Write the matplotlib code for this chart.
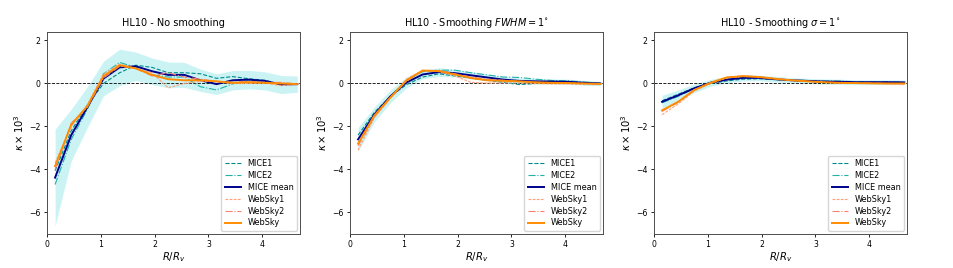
import matplotlib
matplotlib.use("Agg")
import matplotlib.pyplot as plt
import numpy as np

r = [0.15, 0.45, 0.75, 1.05, 1.35, 1.65, 1.95, 2.25, 2.55, 2.85, 3.15, 3.45, 3.75, 4.05, 4.35, 4.65]

titles = ["HL10 - No smoothing",
          r"HL10 - Smoothing $FWHM = 1^{\circ}$",
          r"HL10 - Smoothing $\sigma = 1^{\circ}$"]

# Panel 1: no smoothing
mice1_a = [-4.06, -2.2, -1.0, 0.0, 0.5, 0.85, 0.75, 0.5, 0.5, 0.45, 0.24, 0.32, 0.22, 0.15, -0.05, -0.03]
mice2_a = [-4.7, -2.6, -1.2, 0.45, 0.98, 0.75, 0.4, 0.3, 0.3, -0.15, -0.3, -0.02, 0.14, 0.09, -0.05, -0.03]
micem_a = [-4.38, -2.4, -1.1, 0.23, 0.75, 0.8, 0.57, 0.4, 0.4, 0.15, -0.03, 0.15, 0.18, 0.12, -0.05, -0.03]
micesd_a = [2.25, 1.2, 0.95, 0.8, 0.85, 0.66, 0.62, 0.6, 0.58, 0.52, 0.48, 0.45, 0.43, 0.42, 0.42, 0.38]
web1_a = [-3.7, -2.0, -1.0, 0.45, 0.9, 0.7, 0.5, -0.2, 0.0, 0.1, 0.1, 0.0, 0.0, 0.02, -0.1, -0.05]
web2_a = [-4.0, -1.85, -1.1, 0.25, 0.8, 0.7, 0.35, 0.5, 0.3, 0.2, 0.1, 0.06, 0.1, 0.05, 0.05, -0.02]
webm_a = [-3.85, -1.92, -1.05, 0.34, 0.85, 0.7, 0.4, 0.2, 0.15, 0.15, 0.1, 0.03, 0.06, 0.03, 0.0, -0.03]

# Panel 2: FWHM = 1 deg
mice1_b = [-2.4, -1.35, -0.6, -0.05, 0.3, 0.45, 0.35, 0.25, 0.15, 0.05, -0.05, 0.0, 0.05, 0.05, 0.0, -0.02]
mice2_b = [-2.8, -1.55, -0.6, 0.15, 0.55, 0.62, 0.62, 0.5, 0.4, 0.3, 0.28, 0.2, 0.14, 0.12, 0.07, 0.02]
micem_b = [-2.6, -1.45, -0.6, 0.05, 0.42, 0.53, 0.48, 0.38, 0.28, 0.18, 0.12, 0.1, 0.09, 0.08, 0.03, 0.0]
micesd_b = [0.55, 0.35, 0.3, 0.25, 0.2, 0.2, 0.17, 0.16, 0.15, 0.14, 0.14, 0.13, 0.12, 0.12, 0.11, 0.1]
web1_b = [-3.1, -1.6, -0.7, 0.2, 0.62, 0.55, 0.35, 0.05, 0.02, 0.03, 0.02, 0.0, -0.02, -0.02, -0.05, -0.05]
web2_b = [-2.9, -1.55, -0.65, 0.1, 0.58, 0.6, 0.45, 0.3, 0.2, 0.15, 0.1, 0.06, 0.04, 0.02, 0.0, -0.02]
webm_b = [-2.8, -1.5, -0.65, 0.15, 0.6, 0.58, 0.42, 0.25, 0.15, 0.12, 0.1, 0.05, 0.03, 0.02, 0.0, -0.02]

# Panel 3: sigma = 1 deg
mice1_c = [-0.8, -0.5, -0.2, 0.0, 0.12, 0.2, 0.22, 0.18, 0.14, 0.1, 0.06, 0.05, 0.04, 0.04, 0.04, 0.03]
mice2_c = [-0.9, -0.6, -0.24, 0.06, 0.24, 0.32, 0.3, 0.22, 0.16, 0.14, 0.12, 0.11, 0.08, 0.08, 0.08, 0.07]
micem_c = [-0.85, -0.55, -0.22, 0.03, 0.18, 0.26, 0.26, 0.2, 0.15, 0.12, 0.09, 0.08, 0.06, 0.06, 0.06, 0.05]
micesd_c = [0.3, 0.25, 0.2, 0.16, 0.15, 0.14, 0.13, 0.13, 0.12, 0.12, 0.12, 0.12, 0.11, 0.11, 0.11, 0.11]
web1_c = [-1.45, -0.95, -0.35, 0.0, 0.26, 0.34, 0.32, 0.24, 0.16, 0.1, 0.05, 0.02, 0.0, -0.01, -0.02, -0.03]
web2_c = [-1.3, -0.88, -0.3, 0.04, 0.28, 0.35, 0.31, 0.22, 0.15, 0.1, 0.06, 0.03, 0.02, 0.01, 0.0, -0.01]
webm_c = [-1.25, -0.85, -0.3, 0.03, 0.28, 0.34, 0.3, 0.22, 0.15, 0.1, 0.06, 0.03, 0.02, 0.01, 0.0, 0.0]

panels = [
    (mice1_a, mice2_a, micem_a, micesd_a, web1_a, web2_a, webm_a),
    (mice1_b, mice2_b, micem_b, micesd_b, web1_b, web2_b, webm_b),
    (mice1_c, mice2_c, micem_c, micesd_c, web1_c, web2_c, webm_c),
]

fig = plt.figure(figsize=(9.54, 2.68), dpi=100)
lefts = [47, 350, 654]
for i, (m1, m2, mm, sd, w1, w2, wm) in enumerate(panels):
    ax = fig.add_axes([lefts[i] / 954, 0.127, 253 / 954, 0.754])
    mm_arr = np.array(mm)
    sd_arr = np.array(sd)
    ax.fill_between(r, mm_arr - sd_arr, mm_arr + sd_arr, color="paleturquoise", alpha=0.65, lw=0)
    ax.axhline(0, color="black", ls="--", lw=0.6)
    ax.plot(r, m1, ls="--", color="darkcyan", lw=0.8, label="MICE1")
    ax.plot(r, m2, ls="-.", color="lightseagreen", lw=0.8, label="MICE2")
    ax.plot(r, mm, ls="-", color="darkblue", lw=1.4, label="MICE mean")
    ax.plot(r, w1, ls=(0, (2.5, 1.2)), color="lightsalmon", lw=0.8, label="WebSky1")
    ax.plot(r, w2, ls="-.", color="salmon", lw=0.8, label="WebSky2")
    ax.plot(r, wm, ls="-", color="darkorange", lw=1.4, label="WebSky")
    ax.set_xlim(0, 4.7)
    ax.set_ylim(-7, 2.4)
    ax.set_xticks([0, 1, 2, 3, 4])
    ax.set_yticks([-6, -4, -2, 0, 2])
    ax.tick_params(labelsize=5.6, length=2.5, width=0.6, pad=2)
    for s in ax.spines.values():
        s.set_linewidth(0.7)
        s.set_color("0.3")
    ax.set_title(titles[i], fontsize=7, pad=4)
    ax.set_xlabel(r"$R/R_v$", fontsize=7.2, labelpad=1)
    ax.set_ylabel(r"$\kappa \times 10^3$", fontsize=7.2, labelpad=2)
    ax.legend(loc="lower right", fontsize=5.9, handlelength=2.0, borderpad=0.4,
              labelspacing=0.35, borderaxespad=0.4)

fig.savefig("out.png", dpi=100)
